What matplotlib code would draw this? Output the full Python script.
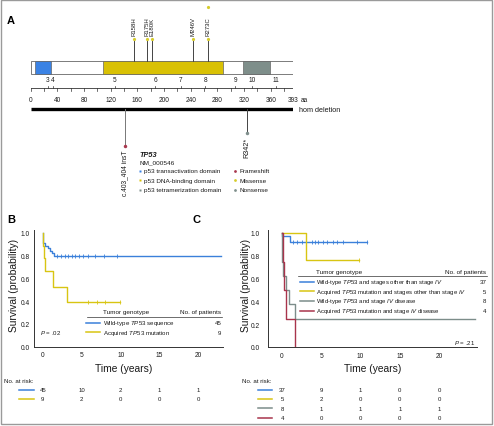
import matplotlib
matplotlib.use('Agg')
import matplotlib.pyplot as plt
from matplotlib.patches import Rectangle
from matplotlib.transforms import blended_transform_factory

plt.rcParams['font.family'] = ['Liberation Sans', 'DejaVu Sans']
plt.rcParams['mathtext.fontset'] = 'custom'
plt.rcParams['mathtext.rm'] = 'Liberation Sans'
plt.rcParams['mathtext.it'] = 'Liberation Sans:italic'
plt.rcParams['mathtext.bf'] = 'Liberation Sans:bold'

# ---------------- data: panel A ----------------
protein_len = 393
domain_names = ['p53 transactivation domain', 'p53 DNA-binding domain', 'p53 tetramerization domain']
domain_start = [6, 109, 319]
domain_end = [30, 288, 359]
exon_labels = ['3', '4', '5', '6', '7', '8', '9', '10', '11']
exon_starts = [26, 33, 126, 187, 225, 262, 307, 332, 368]
aa_tick_labels = [0, 40, 80, 120, 160, 200, 240, 280, 320, 360, 393]
missense_labels = ['R158H', 'R175H', 'E180K', 'M246V', 'R273C']
missense_pos = [155, 175, 182, 243, 266]
missense_count = [1, 1, 1, 1, 2]
frameshift_labels = ['c.403_404 insT']
frameshift_pos = [141]
nonsense_labels = ['R342*']
nonsense_pos = [324]
mut_types = ['Frameshift', 'Missense', 'Nonsense']

# ---------------- data: panel B ----------------
b_wt_t = [0, 0.02, 0.34, 0.68, 0.94, 1.19, 1.45, 22.9]
b_wt_s = [1.0, 0.911, 0.889, 0.867, 0.844, 0.822, 0.80, 0.80]
b_wt_cens = [1.8, 2.3, 2.8, 3.3, 3.7, 4.2, 4.7, 5.2, 5.8, 6.7, 7.8, 9.5]
b_mut_t = [0, 0.02, 0.2, 0.34, 1.32, 3.1, 9.9]
b_mut_s = [1.0, 0.889, 0.778, 0.667, 0.52, 0.39, 0.39]
b_mut_cens = [5.85, 6.95, 8.05, 9.9]
b_names = ['Wild-type $\\mathit{TP53}$ sequence', 'Acquired $\\mathit{TP53}$ mutation']
b_n = [45, 9]
b_risk_times = [0, 5, 10, 15, 20]
b_risk = [[45, 10, 2, 1, 1], [9, 2, 0, 0, 0]]

# ---------------- data: panel C ----------------
c_wt_t = [0, 0.05, 1.0, 10.8]
c_wt_s = [1.0, 0.973, 0.919, 0.919]
c_wt_cens = [1.4, 1.9, 2.5, 3.1, 3.8, 4.2, 4.6, 5.25, 5.7, 6.5, 7.0, 7.8, 9.5, 10.8]
c_mut_t = [0, 3.0, 9.8]
c_mut_s = [1.0, 0.76, 0.76]
c_mut_cens = [9.8]
c_wt4_t = [0, 0.0, 0.1, 0.45, 0.85, 1.6, 24.6]
c_wt4_s = [1.0, 0.75, 0.625, 0.5, 0.375, 0.25, 0.25]
c_mut4_t = [0, 0.1, 0.3, 0.5, 1.6]
c_mut4_s = [1.0, 0.75, 0.5, 0.25, 0.0]
c_names = ['Wild-type $\\mathit{TP53}$ and stages other than stage $\\mathit{IV}$',
           'Acquired $\\mathit{TP53}$ mutation and stages other than stage $\\mathit{IV}$',
           'Wild-type $\\mathit{TP53}$ and stage $\\mathit{IV}$ disease',
           'Acquired $\\mathit{TP53}$ mutation and stage $\\mathit{IV}$ disease']
c_n = [37, 5, 8, 4]
c_risk_times = [0, 5, 10, 15, 20]
c_risk = [[37, 9, 1, 0, 0], [5, 2, 0, 0, 0], [8, 1, 1, 1, 1], [4, 0, 0, 0, 0]]

# ---------------- styles ----------------
BLUE = '#3b80da'
YEL = '#d8c512'
GRAY = '#7c8d8a'
RED = '#a8344c'
dom_colors = ['#3a82e4', '#d9c104', '#7e8e8a']
mut_colors = ['#a8384e', '#d6cc2c', '#7f8f8c']
AX = '#333333'
TXT = '#1a1a1a'

W, H = 494, 427
fig = plt.figure(figsize=(W / 100, H / 100), dpi=100)

# overlay in pixel coordinates
ov = fig.add_axes([0, 0, 1, 1])
ov.set_xlim(0, W)
ov.set_ylim(H, 0)
ov.axis('off')
ov.patch.set_visible(False)
ov.add_patch(Rectangle((1, 1), 491, 424, fill=False, ec='#9a9a9a', lw=1))

# ---------------- Panel A ----------------
axA = fig.add_axes([30.7 / W, 0, 262 / W, 1])
axA.set_xlim(0, protein_len)
axA.set_ylim(H, 0)
axA.axis('off')
axA.patch.set_visible(False)

axA.add_patch(Rectangle((0, 62), protein_len, 13, fc='white', ec='#666666', lw=0.6))
for s, e, c in zip(domain_start, domain_end, dom_colors):
    axA.add_patch(Rectangle((s, 62), e - s, 13, fc=c, ec='#666666', lw=0.5))

# aa axis
axA.plot([0, protein_len], [89.3, 89.3], color=AX, lw=0.6)
for v in list(range(0, protein_len, 20)) + [protein_len]:
    axA.plot([v, v], [89.3, 91.5], color=AX, lw=0.5)
for v in aa_tick_labels:
    axA.text(v, 100, str(v), ha='center', va='center', fontsize=4.7, color=TXT)
ov.text(300.5, 100, 'aa', ha='left', va='center', fontsize=4.7, color=TXT)
for p, lab in zip(exon_starts, exon_labels):
    axA.plot([p, p], [86.5, 89.3], color=AX, lw=0.5)
    axA.text(p, 81, lab, ha='center', va='center', fontsize=4.7, color=TXT)

# hom deletion
axA.plot([0, protein_len], [110, 110], color='black', lw=2.4, solid_capstyle='butt')
ov.text(299, 110, 'hom deletion', ha='left', va='center', fontsize=5.2, color=TXT)

# missense lollipops
for p, lab, n in zip(missense_pos, missense_labels, missense_count):
    axA.plot([p, p], [62, 40.3], color='#444', lw=0.7, zorder=2)
    axA.plot(p, 40.3, 'o', ms=2.3, color=mut_colors[1], mec='none', zorder=3)
    axA.text(p, 36.5, lab, rotation=90, ha='center', va='bottom', fontsize=4.3, color=TXT)
    if n > 1:
        axA.plot(p, 7.5, 'o', ms=2.3, color=mut_colors[1], mec='none', zorder=3)

for p, lab in zip(frameshift_pos, frameshift_labels):
    axA.plot([p, p], [110, 146.7], color='#777', lw=0.7, zorder=2)
    axA.plot(p, 146.7, 'o', ms=2.5, color=mut_colors[0], mec='none', zorder=3)
    axA.text(p, 151, lab, rotation=90, ha='center', va='top', fontsize=4.8, color=TXT)
for p, lab in zip(nonsense_pos, nonsense_labels):
    axA.plot([p, p], [110, 134], color='#444', lw=0.7, zorder=2)
    axA.plot(p, 134, 'o', ms=2.5, color=mut_colors[2], mec='none', zorder=3)
    axA.text(p, 138, lab, rotation=90, ha='center', va='top', fontsize=5.2, color=TXT)

# legend A
ov.text(139, 155.5, 'TP53', fontsize=5.3, fontweight='bold', fontstyle='italic', va='center', ha='left', color=TXT)
ov.text(139, 163, 'NM_000546', fontsize=4.6, va='center', ha='left', color=TXT)
leg_y = [172, 181.3, 190.7]
for y, name, c in zip(leg_y, domain_names, dom_colors):
    ov.plot(140.3, y, 's', ms=1.8, color=c, mec='none')
    ov.text(144.3, y, name, fontsize=4.6, va='center', ha='left', color=TXT)
for y, name, c in zip(leg_y, mut_types, mut_colors):
    ov.plot(235, y, 'o', ms=2.0, color=c, mec='none')
    ov.text(239.3, y, name, fontsize=4.6, va='center', ha='left', color=TXT)

ov.text(11, 20.5, 'A', fontsize=8, fontweight='bold', ha='center', va='center')
ov.text(11, 220, 'B', fontsize=8, fontweight='bold', ha='center', va='center')
ov.text(196.5, 220, 'C', fontsize=8, fontweight='bold', ha='center', va='center')


def surv_at(ts, ss, t):
    val = ss[0]
    for ti, si in zip(ts, ss):
        if ti <= t:
            val = si
    return val


def style_km(ax, ypad):
    for sp in ['top', 'right']:
        ax.spines[sp].set_visible(False)
    for sp in ['left', 'bottom']:
        ax.spines[sp].set_color(AX)
        ax.spines[sp].set_linewidth(0.7)
    ax.set_xticks([0, 5, 10, 15, 20])
    ax.set_xticklabels(['0', '5', '10', '15', '20'])
    ax.set_yticks([0, 0.2, 0.4, 0.6, 0.8, 1.0])
    ax.set_yticklabels(['0.0', '0.2', '0.4', '0.6', '0.8', '1.0'])
    ax.tick_params(axis='x', length=0, labelsize=4.8, pad=3.4, colors=TXT)
    ax.tick_params(axis='y', length=0, labelsize=4.8, pad=ypad, colors=TXT)
    ax.patch.set_visible(False)


# ---------------- Panel B ----------------
b_left, b_right, b_y0, b_y1 = 34.3, 222.7, 347.5, 234.0
b_top = 230.5
axB = fig.add_axes([b_left / W, (H - b_y0) / H, (b_right - b_left) / W, (b_y0 - b_top) / H])
axB.set_ylim(0, (b_y0 - b_top) / (b_y0 - b_y1))
axB.set_xlim((b_left - 42.7) / 7.8, (b_right - 42.7) / 7.8)
style_km(axB, 3.2)
for ts, ss, cens, col in [(b_wt_t, b_wt_s, b_wt_cens, BLUE), (b_mut_t, b_mut_s, b_mut_cens, YEL)]:
    axB.step(ts, ss, where='post', color=col, lw=1.0)
    axB.plot(cens, [surv_at(ts, ss, c) for c in cens], ls='none', marker='|', ms=3, mew=0.6, color=col)

# legend B
ov.text(103, 313, 'Tumor genotype', fontsize=4.6, va='center', ha='left', color=TXT)
ov.text(221.5, 313, 'No. of patients', fontsize=4.6, va='center', ha='right', color=TXT)
ov.plot([87, 222], [317.7, 317.7], color=AX, lw=0.5)
for y, name, n, col in zip([323.7, 333.3], b_names, b_n, [BLUE, YEL]):
    ov.plot([86, 100], [y, y], color=col, lw=1.1)
    ov.text(103, y, name, fontsize=4.4, va='center', ha='left', color=TXT)
    ov.text(221.5, y, str(n), fontsize=4.4, va='center', ha='right', color=TXT)
ov.text(39.5, 333.3, '$\\mathit{P}$ = .02', fontsize=4.4, va='center', ha='left', color=TXT)
ov.text(14, 285, 'Survival (probability)', rotation=90, fontsize=7.4, ha='center', va='center', color=TXT)
ov.text(124, 368.7, 'Time (years)', fontsize=7.4, ha='center', va='center', color=TXT)

# at risk B
trB = blended_transform_factory(axB.transData, ov.transData)
ov.text(4, 382, 'No. at risk:', fontsize=4.4, va='center', ha='left', color=TXT)
for y, row, col in zip([391, 400], b_risk, [BLUE, YEL]):
    ov.plot([19.3, 34.3], [y, y], color=col, lw=1.1)
    for t, v in zip(b_risk_times, row):
        ov.text(t, y, str(v), fontsize=4.3, ha='center', va='center', transform=trB, color=TXT)

# ---------------- Panel C ----------------
c_left, c_right, c_y0, c_y1 = 268.3, 477.3, 348.0, 234.0
c_top = 231.0
c_zero, c_scale = 282.0, 7.86
axC = fig.add_axes([c_left / W, (H - c_y0) / H, (c_right - c_left) / W, (c_y0 - c_top) / H])
axC.set_ylim(0, (c_y0 - c_top) / (c_y0 - c_y1))
axC.set_xlim((c_left - c_zero) / c_scale, (c_right - c_zero) / c_scale)
style_km(axC, 6.0)
for ts, ss, cens, col in [(c_wt_t, c_wt_s, c_wt_cens, BLUE), (c_mut_t, c_mut_s, c_mut_cens, YEL),
                          (c_wt4_t, c_wt4_s, [], GRAY), (c_mut4_t, c_mut4_s, [], RED)]:
    axC.step(ts, ss, where='post', color=col, lw=1.0)
    if cens:
        axC.plot(cens, [surv_at(ts, ss, c) for c in cens], ls='none', marker='|', ms=3, mew=0.6, color=col)

ov.text(316, 272.3, 'Tumor genotype', fontsize=4.6, va='center', ha='left', color=TXT)
ov.text(486.5, 272.3, 'No. of patients', fontsize=4.6, va='center', ha='right', color=TXT)
ov.plot([298, 487], [276.7, 276.7], color=AX, lw=0.5)
for y, name, n, col in zip([283, 292.3, 302, 311.5], c_names, c_n, [BLUE, YEL, GRAY, RED]):
    ov.plot([300, 314], [y, y], color=col, lw=1.1)
    ov.text(316, y, name, fontsize=4.3, va='center', ha='left', color=TXT)
    ov.text(486.5, y, str(n), fontsize=4.4, va='center', ha='right', color=TXT)
ov.text(475, 343, '$\\mathit{P}$ = .21', fontsize=4.4, va='center', ha='right', color=TXT)
ov.text(246, 285, 'Survival (probability)', rotation=90, fontsize=7.4, ha='center', va='center', color=TXT)
ov.text(372.7, 368.7, 'Time (years)', fontsize=7.4, ha='center', va='center', color=TXT)

trC = blended_transform_factory(axC.transData, ov.transData)
ov.text(241.7, 382, 'No. at risk:', fontsize=4.4, va='center', ha='left', color=TXT)
for y, row, col in zip([390.7, 400, 409.3, 419], c_risk, [BLUE, YEL, GRAY, RED]):
    ov.plot([258.3, 271.7], [y, y], color=col, lw=1.1)
    for t, v in zip(c_risk_times, row):
        ov.text(t, y, str(v), fontsize=4.3, ha='center', va='center', transform=trC, color=TXT)

fig.savefig('out.png', dpi=100)
